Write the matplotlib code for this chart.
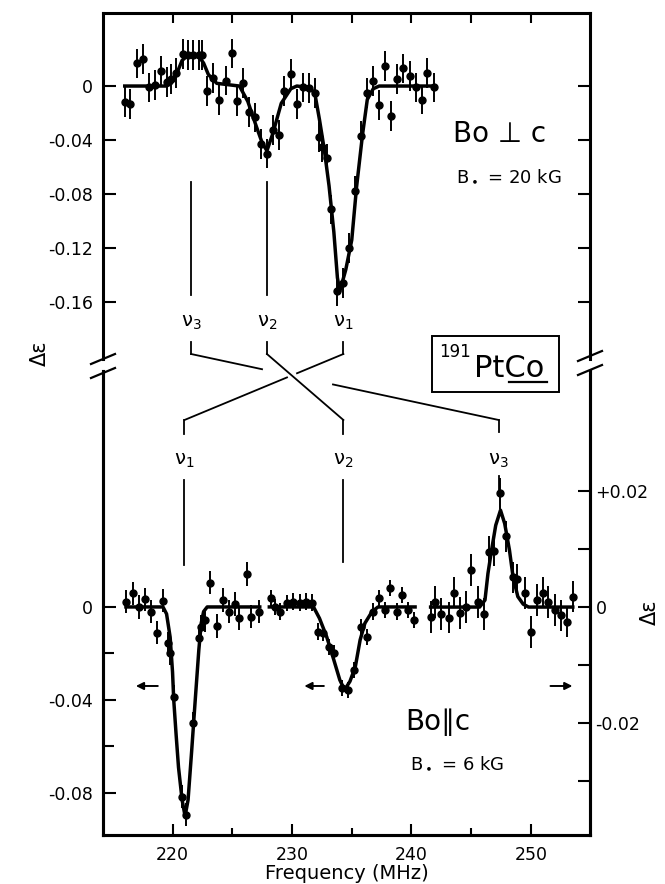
import numpy as np
import matplotlib
matplotlib.use('Agg')
import matplotlib.pyplot as plt
from matplotlib.transforms import blended_transform_factory
from matplotlib.lines import Line2D
from matplotlib.patches import Rectangle

plt.rcParams['font.family'] = ['DejaVu Sans']
plt.rcParams['mathtext.fontset'] = 'dejavusans'

# ---- B0 perp c, B0 = 20 kG (oberes Bild) ----
f_perp = [216.0, 216.4, 217.0, 217.5, 218.0, 218.5, 219.0, 219.5, 219.9, 220.3,
          220.9, 221.3, 221.7, 222.2, 222.5, 222.9, 223.4, 223.9, 224.5, 225.0,
          225.4, 225.9, 226.4, 226.9, 227.4, 227.9, 228.4, 228.9, 229.3, 229.9,
          230.4, 230.9, 231.4, 231.9, 232.3, 232.5, 232.9, 233.3, 233.8, 234.3,
          234.8, 235.3, 235.8, 236.3, 236.8, 237.3, 237.8, 238.3, 238.8, 239.3,
          239.9, 240.4, 240.9, 241.3, 241.9]
de_perp = [-0.0116, -0.0133, 0.0168, 0.0198, -0.001, 0.0007, 0.011, 0.003, 0.005, 0.0099,
           0.0237, 0.023, 0.023, 0.023, 0.023, -0.0035, 0.0057, -0.0104, 0.004, 0.0242,
           -0.0109, 0.002, -0.019, -0.0232, -0.043, -0.050, -0.0326, -0.0363, -0.0035, 0.0089,
           -0.0133, -0.001, -0.0017, -0.005, -0.038, -0.045, -0.0536, -0.0914, -0.152, -0.146,
           -0.120, -0.078, -0.037, -0.005, 0.0037, -0.014, 0.015, -0.022, 0.005, 0.013,
           0.0074, -0.001, -0.010, 0.0094, -0.001]
err_perp = 0.011

fit_perp_f = [216.0, 219.5, 219.9, 220.3, 220.8, 221.2, 222.2, 222.6, 223.0, 223.7,
              225.6, 226.3, 227.0, 227.5, 227.9, 228.4, 229.1, 229.9, 230.4, 231.4,
              231.9, 232.3, 232.7, 233.1, 233.5, 233.8, 234.0, 234.5, 235.0, 235.4,
              235.9, 236.3, 236.8, 237.3, 241.9]
fit_perp_de = [0.0, 0.0, 0.002, 0.008, 0.019, 0.022, 0.022, 0.017, 0.0085, 0.002,
               0.0, -0.0114, -0.0296, -0.042, -0.048, -0.035, -0.0128, -0.002, 0.0, -0.001,
               -0.005, -0.025, -0.047, -0.074, -0.108, -0.142, -0.152, -0.136, -0.114, -0.075,
               -0.036, -0.010, -0.002, 0.0, 0.0]

# ---- B0 || c, B0 = 6 kG (unteres Bild), drei Messbereiche ----
f_nu1 = [216.1, 216.7, 217.2, 217.7, 218.2, 218.7, 219.2, 219.6, 219.8, 220.1,
         220.8, 221.1, 221.7, 222.2, 222.4, 222.7, 223.1, 223.7, 224.2, 224.7,
         225.2, 225.6, 226.2, 226.6, 227.2]
de_nu1 = [0.0022, 0.0059, 0.0, 0.0033, -0.002, -0.011, 0.0027, -0.0156, -0.0198, -0.0386,
          -0.0816, -0.0894, -0.050, -0.0135, -0.0085, -0.0056, 0.0105, -0.0082, 0.003, -0.002,
          0.0013, -0.0049, 0.0142, -0.0042, -0.002]
err_nu1 = 0.005

fit_nu1_f = [216.1, 219.2, 219.5, 219.8, 220.0, 220.1, 220.3, 220.5, 220.8, 221.05,
             221.3, 221.6, 221.9, 222.2, 222.4, 222.6, 222.9, 227.3]
fit_nu1_de = [0.0, 0.0, -0.003, -0.013, -0.028, -0.040, -0.055, -0.069, -0.083, -0.090,
              -0.083, -0.062, -0.040, -0.0185, -0.007, -0.002, 0.0, 0.0]

f_nu2 = [228.2, 228.6, 229.0, 229.6, 230.1, 230.7, 231.2, 231.7, 232.2, 232.6,
         233.1, 233.5, 234.2, 234.7, 235.2, 235.8, 236.3, 236.8, 237.3, 237.8,
         238.2, 238.8, 239.2, 239.7, 240.2]
de_nu2 = [0.0037, 0.0, -0.002, 0.0016, 0.0023, 0.0019, 0.0023, 0.0019, -0.0106, -0.0113,
          -0.0173, -0.020, -0.035, -0.0357, -0.0271, -0.0085, -0.0128, -0.002, 0.0037, -0.0013,
          0.008, -0.002, 0.005, -0.0013, -0.0056]
err_nu2 = 0.0035

fit_nu2_f = [228.1, 231.8, 232.3, 232.9, 233.5, 234.0, 234.4, 234.85, 235.3, 235.7,
             236.1, 236.7, 237.2, 240.3]
fit_nu2_de = [0.0, 0.0, -0.0049, -0.0128, -0.0228, -0.0314, -0.0357, -0.032, -0.0257, -0.0142,
              -0.007, -0.002, 0.0, 0.0]

# nu3 gehoert zur rechten Skala
f_nu3 = [241.6, 242.0, 242.5, 243.1, 243.55, 244.1, 244.6, 245.0, 245.6, 246.1,
         246.5, 246.9, 247.4, 247.9, 248.5, 248.85, 249.5, 250.0, 250.5, 251.0,
         251.45, 252.0, 252.5, 253.0, 253.5]
de_nu3 = [-0.0017, 0.0009, -0.0012, -0.0018, 0.0025, -0.001, 0.0, 0.0064, 0.0009, -0.0012,
          0.0095, 0.0097, 0.0196, 0.0122, 0.0051, 0.0048, 0.0024, -0.0043, 0.0012, 0.0025,
          0.0009, -0.0005, -0.0014, -0.0025, 0.0018]
err_nu3 = 0.0027

fit_nu3_f = [241.6, 245.7, 246.15, 246.4, 246.7, 247.05, 247.45, 247.8, 248.2, 248.5,
             248.9, 249.35, 249.8, 253.5]
fit_nu3_de = [0.0, 0.0, 0.0012, 0.0058, 0.0098, 0.0141, 0.0167, 0.0144, 0.0098, 0.0052,
              0.0018, 0.0005, 0.0, 0.0]

# Linienlagen (MHz) fuer die Zuordnung nu1, nu2, nu3
nu_top = [234.3, 227.9, 221.55]
nu_bot = [221.0, 234.3, 247.3]
nu_labels = [r'$\mathrm{\nu}_1$', r'$\mathrm{\nu}_2$', r'$\mathrm{\nu}_3$']

W, H = 665, 884
def fy(py):
    return 1 - py / H

fig = plt.figure(figsize=(6.65, 8.84), dpi=100)
ax1 = fig.add_axes([103 / W, fy(359), 487 / W, (359 - 13) / H])
ax2 = fig.add_axes([103 / W, fy(835), 487 / W, (835 - 371) / H], sharex=ax1)
ax3 = ax2.twinx()

spw = 2.2
for ax in (ax1, ax2, ax3):
    for s in ax.spines.values():
        s.set_linewidth(spw)
ax1.spines['bottom'].set_visible(False)
ax2.spines['top'].set_visible(False)
ax3.spines['top'].set_visible(False)

ax1.set_xlim(214.18, 254.94)
ax1.set_ylim(-0.2022, 0.0541)
ax2.set_ylim(-0.0981, 0.1015)
ax3.set_ylim(-0.0393, 0.0407)

# Daten
ebkw = dict(fmt='o', color='k', ms=5, elinewidth=1.4, capsize=0)
ax1.errorbar(f_perp, de_perp, yerr=err_perp, **ebkw)
ax1.plot(fit_perp_f, fit_perp_de, color='k', lw=2.5)

ax2.errorbar(f_nu1, de_nu1, yerr=err_nu1, **ebkw)
ax2.plot(fit_nu1_f, fit_nu1_de, color='k', lw=2.5)
ax2.errorbar(f_nu2, de_nu2, yerr=err_nu2, **ebkw)
ax2.plot(fit_nu2_f, fit_nu2_de, color='k', lw=2.5)
ax3.errorbar(f_nu3, de_nu3, yerr=err_nu3, **ebkw)
ax3.plot(fit_nu3_f, fit_nu3_de, color='k', lw=2.5)

# Achsen / Ticks
ax1.set_yticks([0, -0.04, -0.08, -0.12, -0.16])
ax1.set_yticklabels(['0', '-0.04', '-0.08', '-0.12', '-0.16'])
ax1.tick_params(axis='y', which='both', direction='in', length=9, width=1.5,
                labelsize=12.5, pad=7, right=True)
ax1.tick_params(axis='x', which='both', direction='in', length=7, width=1.5,
                top=True, bottom=False, labelbottom=False)
ax1.set_xticks([220, 225, 230, 235, 240, 245, 250])

ax2.set_xticks([220, 230, 240, 250])
ax2.set_xticks([225, 235, 245], minor=True)
ax2.set_xticklabels(['220', '230', '240', '250'])
ax2.tick_params(axis='x', which='major', direction='in', length=8, width=1.5,
                labelsize=12.5, pad=8)
ax2.tick_params(axis='x', which='minor', direction='in', length=5, width=1.5)
ax2.set_yticks([0, -0.04, -0.08])
ax2.set_yticklabels(['0', '-0.04', '-0.08'])
ax2.set_yticks([-0.02, -0.06], minor=True)
ax2.tick_params(axis='y', which='major', direction='in', length=9, width=1.5,
                labelsize=12.5, pad=7)
ax2.tick_params(axis='y', which='minor', direction='in', length=8, width=1.5)
ax2.set_xlabel('Frequency (MHz)', fontsize=14, labelpad=0)

ax3.set_yticks([0.02, 0, -0.02])
ax3.set_yticklabels(['+0.02', '0', '-0.02'])
ax3.set_yticks([0.01, -0.01, -0.03], minor=True)
ax3.tick_params(axis='y', which='major', direction='in', length=9, width=1.5,
                labelsize=12.5, pad=4)
ax3.tick_params(axis='y', which='minor', direction='in', length=9, width=1.5)

# Pfeile: welche Skala gilt
arr = dict(arrowstyle='-|>', color='k', lw=1.4, mutation_scale=11)
ax2.annotate('', xy=(216.7, -0.034), xytext=(219.0, -0.034), arrowprops=arr)
ax2.annotate('', xy=(230.8, -0.034), xytext=(232.9, -0.034), arrowprops=arr)
ax2.annotate('', xy=(253.7, -0.034), xytext=(251.4, -0.034), arrowprops=arr)

# Achsenbruch
for xb, yb in ((103, 366), (590, 363)):
    for dy in (-7, 7):
        fig.add_artist(Line2D([(xb - 12) / W, (xb + 12) / W],
                              [fy(yb + dy + 5), fy(yb + dy - 5)],
                              color='k', lw=1.6))

# Zuordnungslinien nu
tr = blended_transform_factory(ax1.transData, fig.transFigure)
def seg(x, y, lw=1.3):
    fig.add_artist(Line2D(x, [fy(v) for v in y], transform=tr, color='k', lw=lw))

def diag(x0, y0, x1, y1, gap=None):
    if gap is None:
        seg([x0, x1], [y0, y1])
        return
    g0, g1 = gap
    ya = y0 + (y1 - y0) * (g0 - x0) / (x1 - x0)
    yb = y0 + (y1 - y0) * (g1 - x0) / (x1 - x0)
    seg([x0, g0], [y0, ya])
    seg([g1, x1], [yb, y1])

# oben: senkrechte Striche unter den Linien
seg([nu_top[2], nu_top[2]], [182, 295])
seg([nu_top[1], nu_top[1]], [182, 295])
for i, lab in enumerate(nu_labels):
    t = fig.text(0, fy(322), lab, transform=tr, ha='center', va='center', fontsize=14)
    t.set_x(nu_top[i])
    t = fig.text(0, fy(460), lab, transform=tr, ha='center', va='center', fontsize=14)
    t.set_x(nu_bot[i])
    seg([nu_top[i], nu_top[i]], [342, 354])

seg([nu_bot[0], nu_bot[0]], [420, 434])
seg([nu_bot[1], nu_bot[1]], [420, 434])
seg([nu_bot[2], nu_bot[2]], [420, 432])
diag(nu_top[2], 354, nu_bot[2], 420, gap=(227.49, 233.43))
diag(nu_top[1], 354, nu_bot[1], 420)
diag(nu_top[0], 354, nu_bot[0], 420, gap=(230.42, 229.58))

seg([nu_bot[0], nu_bot[0]], [480, 565])
seg([nu_bot[1], nu_bot[1]], [480, 562])
seg([nu_bot[2], nu_bot[2]], [476, 490])

# Beschriftungen
fig.text(453 / W, fy(134), 'Bo \u22a5 c', fontsize=20, ha='left', va='center')
fig.text(456 / W, fy(176), r'B$_\bullet$ = 20 kG', fontsize=13, ha='left', va='center')
fig.text(405 / W, fy(722), 'Bo\u2225c', fontsize=20, ha='left', va='center')
fig.text(410 / W, fy(763), r'B$_\bullet$ = 6 kG', fontsize=13, ha='left', va='center')

# Kasten 191PtCo
fig.add_artist(Rectangle((432 / W, fy(392)), 127 / W, 56 / H, transform=fig.transFigure,
                         fill=False, ec='k', lw=1.4))
fig.text(439 / W, fy(352), '191', fontsize=12, ha='left', va='center')
fig.text(474 / W, fy(377), 'PtCo', fontsize=22, ha='left', va='baseline')
fig.add_artist(Line2D([509 / W, 547 / W], [fy(382), fy(382)], color='k', lw=1.6))

# y-Beschriftungen
fig.text(40 / W, fy(353), '\u0394\u03b5', rotation=90, fontsize=15,
         ha='center', va='center')
fig.text(650 / W, fy(612), '\u0394\u03b5', rotation=90, fontsize=15,
         ha='center', va='center')

plt.savefig('out.png', dpi=100)
